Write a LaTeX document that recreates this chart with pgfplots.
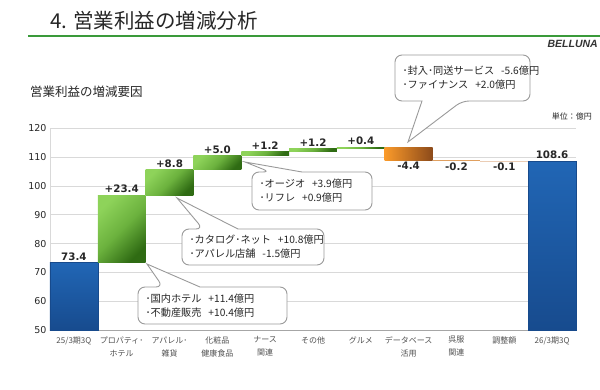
\documentclass[border=0pt]{standalone}
\usepackage{pgfplots}
\pgfplotsset{compat=1.18}
\usepackage{fontspec}
\setmainfont{Noto Sans CJK JP}
\newfontfamily\dv{DejaVu Sans}
\newfontfamily\lib{Liberation Sans}
\definecolor{gridc}{HTML}{D9D9D9}
\definecolor{titlegreen}{HTML}{3A9A3A}
\definecolor{gl}{HTML}{8ED35A}
\definecolor{gm}{HTML}{6CB23E}
\definecolor{gd}{HTML}{2F6B13}
\definecolor{bt}{HTML}{2166B5}
\definecolor{bb}{HTML}{174B8E}
\definecolor{bd}{HTML}{174A8C}
\definecolor{ol}{HTML}{FA9A2A}
\definecolor{od}{HTML}{8C4A1A}
\definecolor{tan1}{HTML}{E0A060}
\definecolor{tan2}{HTML}{EBCDB5}
\definecolor{boxc}{HTML}{9A9A9A}
\definecolor{catc}{HTML}{505050}
\tikzset{
  gbar/.style={draw=none, top color=gl, bottom color=gd, middle color=gm, shading angle=45},
  bbar/.style={draw=bd, line width=0.6pt, top color=bt, bottom color=bb},
  obar/.style={draw=none, left color=ol, right color=od},
  lbl/.style={font=\dv\bfseries\fontsize{10.3}{12}\selectfont, text=black!85, inner sep=2pt},
  cbox/.style={draw=boxc, line width=0.9pt, fill=white},
  ctext/.style={font=\fontsize{10.2}{14}\selectfont, align=left, anchor=west, text=black!85},
}
\begin{document}
\begin{tikzpicture}[x=1pt,y=1pt]
\useasboundingbox (0,0) rectangle (600,389);
% title
\node[anchor=west, font=\fontsize{20.5}{24}\selectfont, text=black!85, inner sep=0pt] at (50,368) {4. 営業利益の増減分析};
\draw[titlegreen, line width=1.4pt] (28,353) -- (600,353);
\node[anchor=east, font=\lib\bfseries\itshape\fontsize{10.5}{12}\selectfont, text=black!80, inner sep=0pt] at (598,345) {BELLUNA};
\node[anchor=west, font=\fontsize{12.5}{14}\selectfont, text=black!85, inner sep=0pt] at (30,297) {営業利益の増減要因};
\node[anchor=east, font=\fontsize{8}{10}\selectfont, text=black!85, inner sep=0pt] at (592,273) {単位：億円};

\begin{axis}[
  at={(50pt,59pt)}, anchor=south west, scale only axis,
  width=526pt, height=201.7pt,
  xmin=-0.5, xmax=10.5, ymin=50, ymax=120,
  ytick={50,60,...,120},
  xtick={0,1,...,10},
  xticklabels={25/3期3Q,{プロパティ･\\ホテル},{アパレル･\\雑貨},{化粧品\\健康食品},{ナース\\関連},その他,グルメ,{データベース\\活用},{呉服\\関連},調整額,26/3期3Q},
  xticklabel style={font=\fontsize{8}{13}\selectfont, text=catc, align=center, yshift=-3pt},
  yticklabel style={font=\dv\fontsize{9.5}{11}\selectfont, text=black!85},
  /pgf/number format/assume math mode=true,
  ymajorgrids, grid style={gridc, line width=0.8pt},
  axis x line*=bottom, axis y line*=left,
  x axis line style={draw=black!35, line width=0.8pt, -},
  y axis line style={draw=gridc, line width=0.8pt, -},
  major tick length=0pt,
  clip=false,
]
\addplot[bbar] coordinates {(-0.5,50) (0.5,50) (0.5,73.4) (-0.5,73.4)} -- cycle;
\addplot[gbar] coordinates {(0.5,73.4) (1.5,73.4) (1.5,96.8) (0.5,96.8)} -- cycle;
\addplot[gbar] coordinates {(1.5,96.8) (2.5,96.8) (2.5,105.6) (1.5,105.6)} -- cycle;
\addplot[gbar] coordinates {(2.5,105.6) (3.5,105.6) (3.5,110.6) (2.5,110.6)} -- cycle;
\addplot[gbar] coordinates {(3.5,110.6) (4.5,110.6) (4.5,111.8) (3.5,111.8)} -- cycle;
\addplot[gbar] coordinates {(4.5,111.8) (5.5,111.8) (5.5,113.0) (4.5,113.0)} -- cycle;
\addplot[gbar] coordinates {(5.5,113.0) (6.5,113.0) (6.5,113.4) (5.5,113.4)} -- cycle;
\addplot[obar] coordinates {(6.5,113.4) (7.5,113.4) (7.5,109.0) (6.5,109.0)} -- cycle;
\addplot[fill=tan1, draw=none] coordinates {(7.5,109.0) (8.5,109.0) (8.5,108.8) (7.5,108.8)} -- cycle;
\addplot[fill=tan2, draw=none] coordinates {(8.5,108.8) (9.5,108.8) (9.5,108.7) (8.5,108.7)} -- cycle;
\addplot[bbar] coordinates {(9.5,50) (10.5,50) (10.5,108.6) (9.5,108.6)} -- cycle;

\node[lbl, above] at (axis cs:0,73.4) {73.4};
\node[lbl, above] at (axis cs:1,96.8) {+23.4};
\node[lbl, above] at (axis cs:2,105.6) {+8.8};
\node[lbl, above] at (axis cs:3,110.6) {+5.0};
\node[lbl, above] at (axis cs:4,111.8) {+1.2};
\node[lbl, above] at (axis cs:5,113.0) {+1.2};
\node[lbl, above] at (axis cs:6,113.4) {+0.4};
\node[lbl, below] at (axis cs:7,109.0) {-4.4};
\node[lbl, below] at (axis cs:8,108.8) {-0.2};
\node[lbl, below] at (axis cs:9,108.8) {-0.1};
\node[lbl, above] at (axis cs:10,108.6) {108.6};
\end{axis}

% callouts
\draw[cbox, rounded corners=7pt] (163,102) [sharp corners]-- (147,125) -- (200,102) [rounded corners=7pt]-- (287,102) -- (287,65) -- (138,65) -- (138,102) -- cycle;
\node[ctext] at (142,83.5) {･国内ホテル\ \ \ +11.4億円\\･不動産販売\ \ \ +10.4億円};

\draw[cbox, rounded corners=7pt] (203,160) [sharp corners]-- (177,191) -- (238,160) [rounded corners=7pt]-- (324,160) -- (324,124) -- (182,124) -- (182,160) -- cycle;
\node[ctext] at (186,142) {･カタログ･ネット\ \ \ +10.8億円\\･アパレル店舗\ \ \ -1.5億円};

\draw[cbox, rounded corners=7pt] (270,217) [sharp corners]-- (245,227) -- (302,217) [rounded corners=7pt]-- (372,217) -- (372,179) -- (252,179) -- (252,217) -- cycle;
\node[ctext] at (256,198) {･オージオ\ \ \ +3.9億円\\･リフレ\ \ \ +0.9億円};

\draw[cbox, rounded corners=7pt] (462,288) [sharp corners]-- (408,247) -- (422,288) [rounded corners=7pt]-- (395,288) -- (395,334) -- (530,334) -- (530,288) -- cycle;
\node[ctext] at (399,311) {･封入･同送サービス\ \ \ -5.6億円\\･ファイナンス\ \ \ +2.0億円};
\end{tikzpicture}
\end{document}
